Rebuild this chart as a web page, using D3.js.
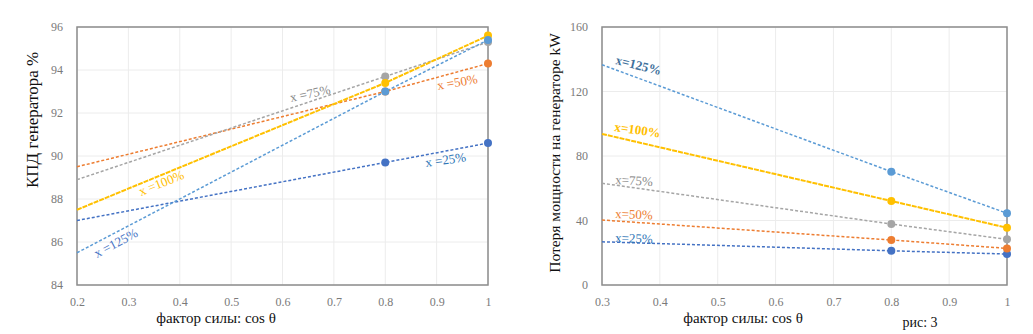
<!DOCTYPE html>
<html>
<head>
<meta charset="utf-8">
<script src="https://cdn.jsdelivr.net/npm/d3@7"></script>
<style>
  body { margin: 0; background: #fff; }
  svg { display: block; font-family: "Liberation Serif", "Times New Roman", serif; }
</style>
</head>
<body>
<svg id="chart" width="1033" height="334"></svg>
<script>
// данные — КПД генератора (левый график)
const effX = [0.2, 0.8, 1];
const eff25 = [87.0, 89.7, 90.6];
const eff50 = [89.5, 93.0, 94.3];
const eff75 = [88.9, 93.7, 95.3];
const eff100 = [87.5, 93.4, 95.6];
const eff125 = [85.5, 93.0, 95.4];
const effXTicks = [0.2, 0.3, 0.4, 0.5, 0.6, 0.7, 0.8, 0.9, 1];
const effYTicks = [84, 86, 88, 90, 92, 94, 96];

// данные — потеря мощности (правый график)
const lossX = [0.3, 0.8, 1];
const loss25 = [26.8, 21.2, 19.2];
const loss50 = [40.3, 27.9, 22.7];
const loss75 = [63.1, 37.8, 28.3];
const loss100 = [93.7, 52.1, 35.5];
const loss125 = [136.6, 70.3, 44.5];
const lossXTicks = [0.3, 0.4, 0.5, 0.6, 0.7, 0.8, 0.9, 1];
const lossYTicks = [0, 40, 80, 120, 160];

const colors = ["#4472C4", "#ED7D31", "#A5A5A5", "#FFC000", "#5B9BD5"];
const serif = "'Liberation Serif', 'Times New Roman', serif";

const svg = d3.select("#chart");

function drawPanel(opt) {
  const x = d3.scaleLinear().domain(opt.xDomain).range([opt.left, opt.right]);
  const y = d3.scaleLinear().domain(opt.yDomain).range([opt.bottom, opt.top]);
  const g = svg.append("g");

  // сетка
  g.selectAll(".vgrid").data(opt.xTicks).enter().append("line")
    .attr("x1", d => x(d)).attr("x2", d => x(d))
    .attr("y1", opt.top).attr("y2", opt.bottom)
    .attr("stroke", "#ececec").attr("stroke-width", 1);
  g.selectAll(".hgrid").data(opt.yTicks).enter().append("line")
    .attr("x1", opt.left).attr("x2", opt.right)
    .attr("y1", d => y(d)).attr("y2", d => y(d))
    .attr("stroke", "#ececec").attr("stroke-width", 1);

  // оси
  const xAxis = g.append("g")
    .attr("transform", `translate(0,${opt.bottom})`)
    .call(d3.axisBottom(x).tickValues(opt.xTicks).tickSize(0).tickPadding(12).tickFormat(d3.format("")));
  const yAxis = g.append("g")
    .attr("transform", `translate(${opt.left},0)`)
    .call(d3.axisLeft(y).tickValues(opt.yTicks).tickSize(0).tickPadding(opt.yPad).tickFormat(d3.format("")));
  [xAxis, yAxis].forEach(a => {
    a.attr("font-family", serif).attr("font-size", 12);
    a.select(".domain").remove();
    a.selectAll("text").attr("fill", "#7a7a7a");
  });

  // рамка
  g.append("rect")
    .attr("x", opt.left).attr("y", opt.top)
    .attr("width", opt.right - opt.left).attr("height", opt.bottom - opt.top)
    .attr("fill", "none").attr("stroke", "#8c8c8c").attr("stroke-width", 1.5);

  const line = d3.line().x(d => x(d[0])).y(d => y(d[1]));

  opt.series.forEach((vals, i) => {
    const pts = opt.xs.map((v, j) => [v, vals[j]]);
    g.append("path")
      .datum(pts)
      .attr("d", line)
      .attr("fill", "none")
      .attr("stroke", colors[i])
      .attr("stroke-width", i === 3 ? 2 : 1.5)
      .attr("stroke-dasharray", i === 3 ? "5,1" : "3,2");

    g.selectAll(null)
      .data(pts.slice(1))
      .enter()
      .append("circle")
      .attr("cx", d => x(d[0]))
      .attr("cy", d => y(d[1]))
      .attr("r", 4)
      .attr("fill", colors[i]);
  });

  // подписи серий
  opt.labels.forEach(l => {
    g.append("text")
      .attr("transform", `translate(${l.x},${l.y}) rotate(${l.rot})`)
      .text(l.text)
      .style("font-family", serif)
      .style("font-size", "13px")
      .style("font-weight", l.bold ? "bold" : "normal")
      .style("fill", l.color);
  });

  // подписи осей
  g.append("text")
    .attr("transform", `translate(${opt.yLabelX},${opt.yLabelY}) rotate(-90)`)
    .attr("text-anchor", "middle")
    .text(opt.yLabel)
    .style("font-family", serif)
    .style("font-size", opt.yLabelSize)
    .style("fill", "#111");

  g.append("text")
    .attr("x", opt.xLabelX)
    .attr("y", 323)
    .attr("text-anchor", "middle")
    .text("фактор силы: cos θ")
    .style("font-family", serif)
    .style("font-size", "15px")
    .style("fill", "#111");
}

drawPanel({
  left: 77, right: 488, top: 27, bottom: 285,
  xDomain: [0.2, 1], yDomain: [84, 96],
  xTicks: effXTicks, yTicks: effYTicks, yPad: 14,
  xs: effX,
  series: [eff25, eff50, eff75, eff100, eff125],
  yLabel: "КПД генератора %", yLabelX: 38, yLabelY: 120, yLabelSize: "17px",
  xLabelX: 216,
  labels: [
    { text: "x =75%", x: 291, y: 102, rot: -12, color: "#8a8a8a" },
    { text: "x =50%", x: 438, y: 90, rot: -10, color: "#ED7D31" },
    { text: "x =25%", x: 426, y: 167, rot: -8, color: "#2E75B6" },
    { text: "x =100%", x: 141, y: 196, rot: -22, color: "#FFC000" },
    { text: "x =125%", x: 97, y: 258, rot: -28, color: "#4472C4" }
  ]
});

drawPanel({
  left: 602, right: 1007, top: 27, bottom: 285,
  xDomain: [0.3, 1], yDomain: [0, 160],
  xTicks: lossXTicks, yTicks: lossYTicks, yPad: 14,
  xs: lossX,
  series: [loss25, loss50, loss75, loss100, loss125],
  yLabel: "Потеря мощности на генераторе kW", yLabelX: 560, yLabelY: 153, yLabelSize: "15.5px",
  xLabelX: 743,
  labels: [
    { text: "x=125%", x: 615, y: 64, rot: 14, color: "#41719C", bold: true },
    { text: "x=100%", x: 614, y: 131, rot: 8, color: "#FFC000", bold: true },
    { text: "x=75%", x: 615, y: 184, rot: 3, color: "#8a8a8a" },
    { text: "x=50%", x: 615, y: 218, rot: 2, color: "#ED7D31" },
    { text: "x=25%", x: 615, y: 242, rot: 2, color: "#2E75B6" }
  ]
});

svg.append("text")
  .attr("x", 920)
  .attr("y", 327)
  .attr("text-anchor", "middle")
  .text("рис: 3")
  .style("font-family", serif)
  .style("font-size", "14px")
  .style("fill", "#111");
</script>
</body>
</html>
